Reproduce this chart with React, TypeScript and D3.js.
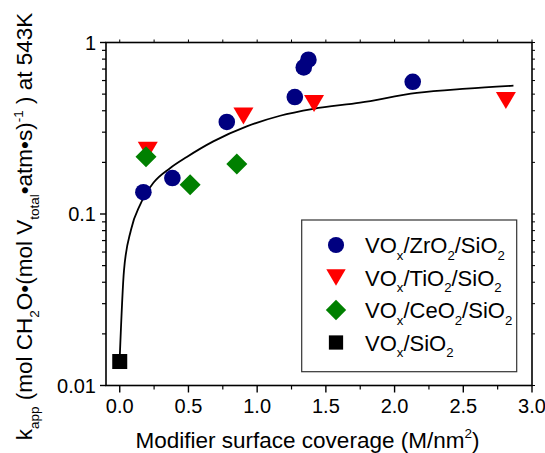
// App.tsx — log-scale scatter of k_app vs modifier surface coverage, with fit curve
import * as d3 from 'd3'

const W = 545
const H = 453
const M = { left: 106, right: 532, top: 42.5, bottom: 385.5 }
const FONT = '"Liberation Sans", Arial, sans-serif'

// ── Data ─────────────────────────────────────────────────────────────────
const zrX = [0.172, 0.383, 0.779, 1.274, 1.339, 1.373, 2.132]
const zrY = [0.134, 0.162, 0.344, 0.481, 0.716, 0.794, 0.59]
const tiX = [0.204, 0.9, 1.414, 2.81]
const tiY = [0.235, 0.373, 0.441, 0.459]
const ceX = [0.191, 0.512, 0.852]
const ceY = [0.216, 0.148, 0.196]
const siX = [0]
const siY = [0.0138]

// fit line
const fitX = [0, 0.031, 0.082, 0.148, 0.245, 0.366, 0.488, 0.681, 0.924, 1.167, 1.409, 1.749, 2.162, 2.525, 2.865]
const fitY = [0.0145, 0.047, 0.081, 0.113, 0.152, 0.185, 0.215, 0.265, 0.324, 0.374, 0.41, 0.446, 0.508, 0.538, 0.56]

const xTicks = [0, 0.5, 1.0, 1.5, 2.0, 2.5, 3.0]
const xTickLabels = ['0.0', '0.5', '1.0', '1.5', '2.0', '2.5', '3.0']
const xMinor = [0.25, 0.75, 1.25, 1.75, 2.25, 2.75]
const yTicks = [0.01, 0.1, 1]
const yTickLabels = ['0.01', '0.1', '1']
const yMinor = [2, 3, 4, 5, 6, 7, 8, 9].flatMap((m) => [m * 0.01, m * 0.1])

const x = d3.scaleLinear().domain([-0.1, 3.0]).range([M.left, M.right])
const y = d3.scaleLog().domain([0.01, 1]).range([M.bottom, M.top])

type Seg = { t: string; s?: 'sub' | 'sup' }

function Rich({ segs, size }: { segs: Seg[]; size: number }) {
  let cur = 0
  return (
    <>
      {segs.map((g, i) => {
        const target = g.s === 'sub' ? size * 0.3 : g.s === 'sup' ? -size * 0.42 : 0
        const dy = target - cur
        cur = target
        return (
          <tspan key={i} dy={dy} fontSize={g.s ? size * 0.6 : size}>
            {g.t}
          </tspan>
        )
      })}
    </>
  )
}

// marker shapes, centred on (cx, cy)
function Marker({ kind, cx, cy, s = 1 }: { kind: string; cx: number; cy: number; s?: number }) {
  if (kind === 'circle') return <circle cx={cx} cy={cy} r={8.3 * s} fill="#000080" />
  if (kind === 'tri') {
    const w = 10 * s, h = 8.5 * s
    return <path d={`M${cx - w},${cy - h}L${cx + w},${cy - h}L${cx},${cy + h}Z`} fill="#FF0000" />
  }
  if (kind === 'diamond') {
    const d = 10.5 * s
    return <path d={`M${cx},${cy - d}L${cx + d},${cy}L${cx},${cy + d}L${cx - d},${cy}Z`} fill="#008000" />
  }
  const h = 7.5 * s
  return <rect x={cx - h} y={cy - h} width={2 * h} height={2 * h} fill="#000" />
}

const series = [
  { kind: 'circle', xs: zrX, ys: zrY, label: [{ t: 'VO' }, { t: 'x', s: 'sub' }, { t: '/ZrO' }, { t: '2', s: 'sub' }, { t: '/SiO' }, { t: '2', s: 'sub' }] as Seg[] },
  { kind: 'tri', xs: tiX, ys: tiY, label: [{ t: 'VO' }, { t: 'x', s: 'sub' }, { t: '/TiO' }, { t: '2', s: 'sub' }, { t: '/SiO' }, { t: '2', s: 'sub' }] as Seg[] },
  { kind: 'diamond', xs: ceX, ys: ceY, label: [{ t: 'VO' }, { t: 'x', s: 'sub' }, { t: '/CeO' }, { t: '2', s: 'sub' }, { t: '/SiO' }, { t: '2', s: 'sub' }] as Seg[] },
  { kind: 'square', xs: siX, ys: siY, label: [{ t: 'VO' }, { t: 'x', s: 'sub' }, { t: '/SiO' }, { t: '2', s: 'sub' }] as Seg[] },
]

const yTitle: Seg[] = [
  { t: 'k' }, { t: 'app', s: 'sub' }, { t: ' (mol CH' }, { t: '2', s: 'sub' },
  { t: 'O•(mol V' }, { t: 'total', s: 'sub' }, { t: '•atm•s)' }, { t: '-1', s: 'sup' }, { t: ' ) at 543K' },
]
const xTitle: Seg[] = [{ t: 'Modifier surface coverage (M/nm' }, { t: '2', s: 'sup' }, { t: ')' }]

export default function App() {
  const line = d3.line<number>()
    .x((d) => x(fitX[d]))
    .y((d) => y(fitY[d]))
    .curve(d3.curveMonotoneX)
  const fitPath = line(fitX.map((_, i) => i)) || ''

  return (
    <div style={{ position: 'fixed', left: 0, top: 0 }}>
      <svg width={W} height={H} fontFamily={FONT} style={{ display: 'block', background: '#fff' }}>
        {/* fit curve */}
        <path d={fitPath} fill="none" stroke="#000" strokeWidth={1.8} />

        {/* markers */}
        {series.map((sr) =>
          sr.xs.map((v, i) => <Marker key={sr.kind + i} kind={sr.kind} cx={x(v)} cy={y(sr.ys[i])} />)
        )}

        {/* frame */}
        <rect x={M.left} y={M.top} width={M.right - M.left} height={M.bottom - M.top}
          fill="none" stroke="#000" strokeWidth={1.6} />

        {/* bottom axis */}
        {xTicks.map((t, i) => (
          <g key={'xt' + i}>
            <line x1={x(t)} x2={x(t)} y1={M.bottom} y2={M.bottom + 7} stroke="#000" strokeWidth={1.4} />
            <line x1={x(t)} x2={x(t)} y1={M.top} y2={M.top - 3} stroke="#000" strokeWidth={1} />
            <text x={x(t)} y={412.5} fontSize={20} textAnchor="middle">{xTickLabels[i]}</text>
          </g>
        ))}
        {xMinor.map((t) => (
          <g key={'xm' + t}>
            <line x1={x(t)} x2={x(t)} y1={M.bottom} y2={M.bottom + 4} stroke="#000" strokeWidth={1.2} />
            <line x1={x(t)} x2={x(t)} y1={M.top} y2={M.top - 3} stroke="#000" strokeWidth={1} />
          </g>
        ))}

        {/* left axis */}
        {yTicks.map((t, i) => (
          <g key={'yt' + i}>
            <line x1={M.left} x2={M.left - 6} y1={y(t)} y2={y(t)} stroke="#000" strokeWidth={1.4} />
            <line x1={M.right} x2={M.right + 3} y1={y(t)} y2={y(t)} stroke="#000" strokeWidth={1} />
            <text x={96} y={y(t) + 7} fontSize={20} textAnchor="end">{yTickLabels[i]}</text>
          </g>
        ))}
        {yMinor.map((t) => (
          <g key={'ym' + t}>
            <line x1={M.left} x2={M.left - 4} y1={y(t)} y2={y(t)} stroke="#000" strokeWidth={1.2} />
            <line x1={M.right} x2={M.right + 3} y1={y(t)} y2={y(t)} stroke="#000" strokeWidth={1} />
          </g>
        ))}

        {/* axis titles */}
        <text x={307.5} y={447.5} fontSize={22.5} textAnchor="middle"><Rich segs={xTitle} size={22.5} /></text>
        <text transform="translate(32,226.5) rotate(-90)" fontSize={22.5} textAnchor="middle">
          <Rich segs={yTitle} size={22.5} />
        </text>

        {/* legend */}
        <rect x={301.7} y={220} width={215} height={151.7} fill="#fff" stroke="#333" strokeWidth={1.2} />
        {series.map((sr, i) => {
          const cy = 245 + i * 32.5
          return (
            <g key={'lg' + i}>
              <Marker kind={sr.kind} cx={336} cy={cy} s={sr.kind === 'square' ? 0.95 : 0.97} />
              <text x={365} y={cy + 8} fontSize={22}><Rich segs={sr.label} size={22} /></text>
            </g>
          )
        })}
      </svg>
    </div>
  )
}
